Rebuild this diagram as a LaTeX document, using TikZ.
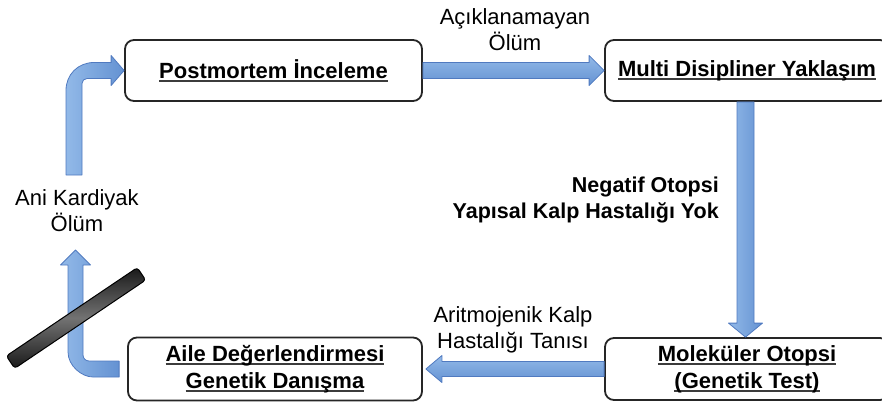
\documentclass[tikz,border=0pt]{standalone}
\usepackage{fontspec}
\setmainfont{Liberation Sans}
\usetikzlibrary{calc}
\definecolor{arrfill}{RGB}{100,146,210}
\definecolor{arrlight}{RGB}{146,185,232}
\definecolor{arrline}{RGB}{80,122,192}
\definecolor{ulc}{RGB}{60,60,60}
\newcommand\myul[1]{\setbox0\hbox{#1}\leavevmode\rlap{\color{ulc}\rule[-3.5pt]{\wd0}{1.4pt}}\box0}
\tikzset{
  box/.style={draw=black!85, line width=1.8pt, rounded corners=9pt, fill=white, inner sep=0pt,
    font=\fontsize{22}{27}\selectfont\bfseries, align=center},
  lbl/.style={font=\fontsize{22}{26}\selectfont, align=center, inner sep=0pt},
  blbl/.style={font=\fontsize{21.5}{26}\selectfont\bfseries, align=right, inner sep=0pt},
  fath/.style={draw=arrline, line width=0.8pt, top color=arrlight, bottom color=arrfill, line join=round},
  fatv/.style={draw=arrline, line width=0.8pt, left color=arrlight, right color=arrfill, line join=round},
  bar/.style={draw=black, line width=1pt, rounded corners=3pt, inner sep=0pt,
    top color=black!90, bottom color=black!90, middle color=black!55}
}
\begin{document}
\begin{tikzpicture}[x=1pt,y=-1pt]
\useasboundingbox (0,0) rectangle (882,405);
% boxes
\node[box, minimum width=297pt, minimum height=61pt] (p) at (273.5,70.5) {\myul{Postmortem İnceleme}};
\node[box, minimum width=284pt, minimum height=61pt] (m) at (747,70.5) {\myul{Multi Disipliner Yaklaşım}};
\node[box, minimum width=284pt, minimum height=62pt] (mo) at (747,369) {\myul{Moleküler Otopsi}\\\myul{(Genetik Test)}};
\node[box, minimum width=294pt, minimum height=63pt] (a) at (275,369) {\myul{Aile Değerlendirmesi}\\\myul{Genetik Danışma}};
% free ends
\coordinate (ak) at (75.5,250);
\coordinate (ks) at (74,175);
\coordinate (c4) at (ak |- a.west);
\coordinate (c5) at (ks |- p.west);
% arrow p -> m
\draw[fath] ($(p.east)+(0,-8)$) -- ($(m.west)+(-15,-8)$) -- ($(m.west)+(-15,-15)$) -- (m.west)
  -- ($(m.west)+(-15,15)$) -- ($(m.west)+(-15,8)$) -- ($(p.east)+(0,8)$) -- cycle;
% arrow m -> mo
\draw[fatv] ($(m.south)+(-10,0)$) -- ($(mo.north)+(-10,-14)$) -- ($(mo.north)+(-18.5,-14)$) -- ($(mo.north)+(-1.5,0)$)
  -- ($(mo.north)+(15.5,-14)$) -- ($(mo.north)+(7,-14)$) -- ($(m.south)+(7,0)$) -- cycle;
% arrow mo -> a
\draw[fath] ($(mo.west)+(0,-7.5)$) -- ($(a.east)+(19,-7.5)$) -- ($(a.east)+(19,-13.5)$) -- ($(a.east)+(3,0)$)
  -- ($(a.east)+(19,13.5)$) -- ($(a.east)+(19,7.5)$) -- ($(mo.west)+(0,7.5)$) -- cycle;
% bent arrow a -> up
\draw[fatv] ($(a.west)+(-8,-8)$) -- ($(c4)+(13.5,-8)$)
  .. controls ($(c4)+(10.2,-8)$) and ($(c4)+(7.5,-10.7)$) .. ($(c4)+(7.5,-14)$)
  -- ($(ak)+(7.5,15)$) -- ($(ak)+(15,15)$) -- (ak) -- ($(ak)+(-15,15)$) -- ($(ak)+(-7.5,15)$)
  -- ($(c4)+(-7.5,-17)$) .. controls ($(c4)+(-7.5,-3)$) and ($(c4)+(6.5,8)$) .. ($(c4)+(17.5,8)$)
  -- ($(a.west)+(-8,8)$) -- cycle;
% bent arrow up -> p
\draw[fatv] ($(ks)+(-8,0)$) -- ($(c5)+(-8,20)$)
  .. controls ($(c5)+(-8,4)$) and ($(c5)+(4,-8)$) .. ($(c5)+(20,-8)$)
  -- ($(p.west)+(-13,-8)$) -- ($(p.west)+(-13,-15)$) -- (p.west) -- ($(p.west)+(-13,15)$) -- ($(p.west)+(-13,8)$)
  -- ($(c5)+(13,8)$) .. controls ($(c5)+(10.2,8)$) and ($(c5)+(8,10.2)$) .. ($(c5)+(8,13)$)
  -- ($(ks)+(8,0)$) -- cycle;
% bar
\node[bar, minimum width=158pt, minimum height=15pt, rotate=34] (rod) at (76,318) {};
% labels
\node[lbl] (l1) at (77,211) {Ani Kardiyak\\Ölüm};
\node[lbl] (l2) at (515,30) {Açıklanamayan\\Ölüm};
\node[blbl, anchor=east] (l3) at (719,200) {Negatif Otopsi\\Yapısal Kalp Hastalığı Yok};
\node[lbl] (l4) at (513,330) {Aritmojenik Kalp\\Hastalığı Tanısı};
\end{tikzpicture}
\end{document}
